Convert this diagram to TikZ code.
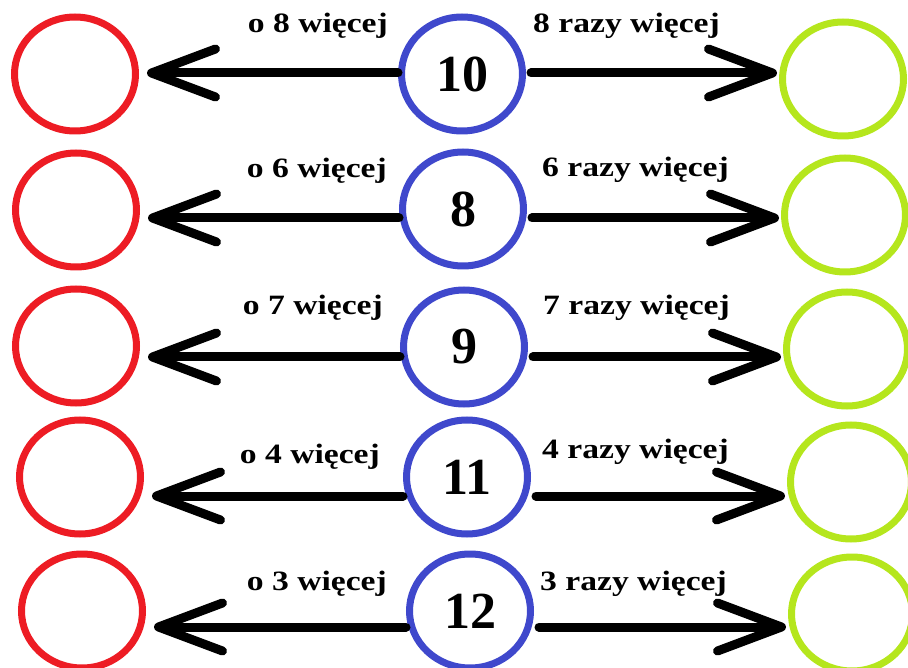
\documentclass[tikz,border=0pt]{standalone}
\usepackage{fontspec}
\setmainfont{Liberation Serif}
\newfontfamily\labfont{Liberation Serif}[FakeStretch=1.2]
\usetikzlibrary{arrows.meta,shapes.geometric}

\definecolor{paintred}{RGB}{237,28,36}
\definecolor{paintblue}{RGB}{63,72,204}
\definecolor{paintgreen}{RGB}{181,230,29}

\begin{document}
\begin{tikzpicture}[x=1pt,y=-1pt,
    ring/.style={ellipse,draw,line width=7pt,minimum width=121pt,minimum height=114pt,inner sep=0pt},
    redring/.style={ring,paintred},
    bluering/.style={ring,paintblue,text=black,font=\fontsize{52}{52}\selectfont\bfseries},
    greenring/.style={ring,paintgreen},
    lab/.style={inner sep=0pt,font=\labfont\fontsize{28}{28}\selectfont\bfseries},
    arr/.style={line width=9pt,line cap=round,-{Straight Barb[length=64pt,width=48pt,round]}}]
  \useasboundingbox (0,0) rectangle (908,668);

  \node[redring] (l1) at (75,74) {};
  \node[bluering] (m1) at (462,74) {10};
  \node[greenring] (r1) at (843,79) {};
  \coordinate (y1) at (0,73);
  \draw[arr,shorten >=8pt] (m1.west |- y1) -- (l1.east |- y1);
  \draw[arr,shorten <=5pt,shorten >=2pt] (m1.east |- y1) -- (r1.west |- y1);
  \node[lab,anchor=base east] (o1) at (388,33) {o 8 więcej};
  \node[lab,anchor=base west] (x1) at (533,33) {8 razy więcej};

  \node[redring] (l2) at (76,210) {};
  \node[bluering] (m2) at (463,209) {8};
  \node[greenring] (r2) at (845,215) {};
  \coordinate (y2) at (0,218);
  \draw[arr,shorten >=8pt] (m2.west |- y2) -- (l2.east |- y2);
  \draw[arr,shorten <=5pt,shorten >=2pt] (m2.east |- y2) -- (r2.west |- y2);
  \node[lab,anchor=base east] (o2) at (387,178) {o 6 więcej};
  \node[lab,anchor=base west] (x2) at (542,177) {6 razy więcej};

  \node[redring] (l3) at (76,346) {};
  \node[bluering] (m3) at (464,347) {9};
  \node[greenring] (r3) at (847,349) {};
  \coordinate (y3) at (0,357);
  \draw[arr,shorten >=8pt] (m3.west |- y3) -- (l3.east |- y3);
  \draw[arr,shorten <=5pt,shorten >=2pt] (m3.east |- y3) -- (r3.west |- y3);
  \node[lab,anchor=base east] (o3) at (383,315) {o 7 więcej};
  \node[lab,anchor=base west] (x3) at (543,315) {7 razy więcej};

  \node[redring] (l4) at (80,477) {};
  \node[bluering] (m4) at (467,477) {11};
  \node[greenring] (r4) at (851,482) {};
  \coordinate (y4) at (0,496);
  \draw[arr,shorten >=8pt] (m4.west |- y4) -- (l4.east |- y4);
  \draw[arr,shorten <=5pt,shorten >=2pt] (m4.east |- y4) -- (r4.west |- y4);
  \node[lab,anchor=base east] (o4) at (380,463) {o 4 więcej};
  \node[lab,anchor=base west] (x4) at (542,458) {4 razy więcej};

  \node[redring] (l5) at (82,611) {};
  \node[bluering] (m5) at (470,611) {12};
  \node[greenring] (r5) at (852,614) {};
  \coordinate (y5) at (0,627);
  \draw[arr,shorten >=8pt] (m5.west |- y5) -- (l5.east |- y5);
  \draw[arr,shorten <=5pt,shorten >=2pt] (m5.east |- y5) -- (r5.west |- y5);
  \node[lab,anchor=base east] (o5) at (387,590) {o 3 więcej};
  \node[lab,anchor=base west] (x5) at (540,590) {3 razy więcej};
\end{tikzpicture}
\end{document}
